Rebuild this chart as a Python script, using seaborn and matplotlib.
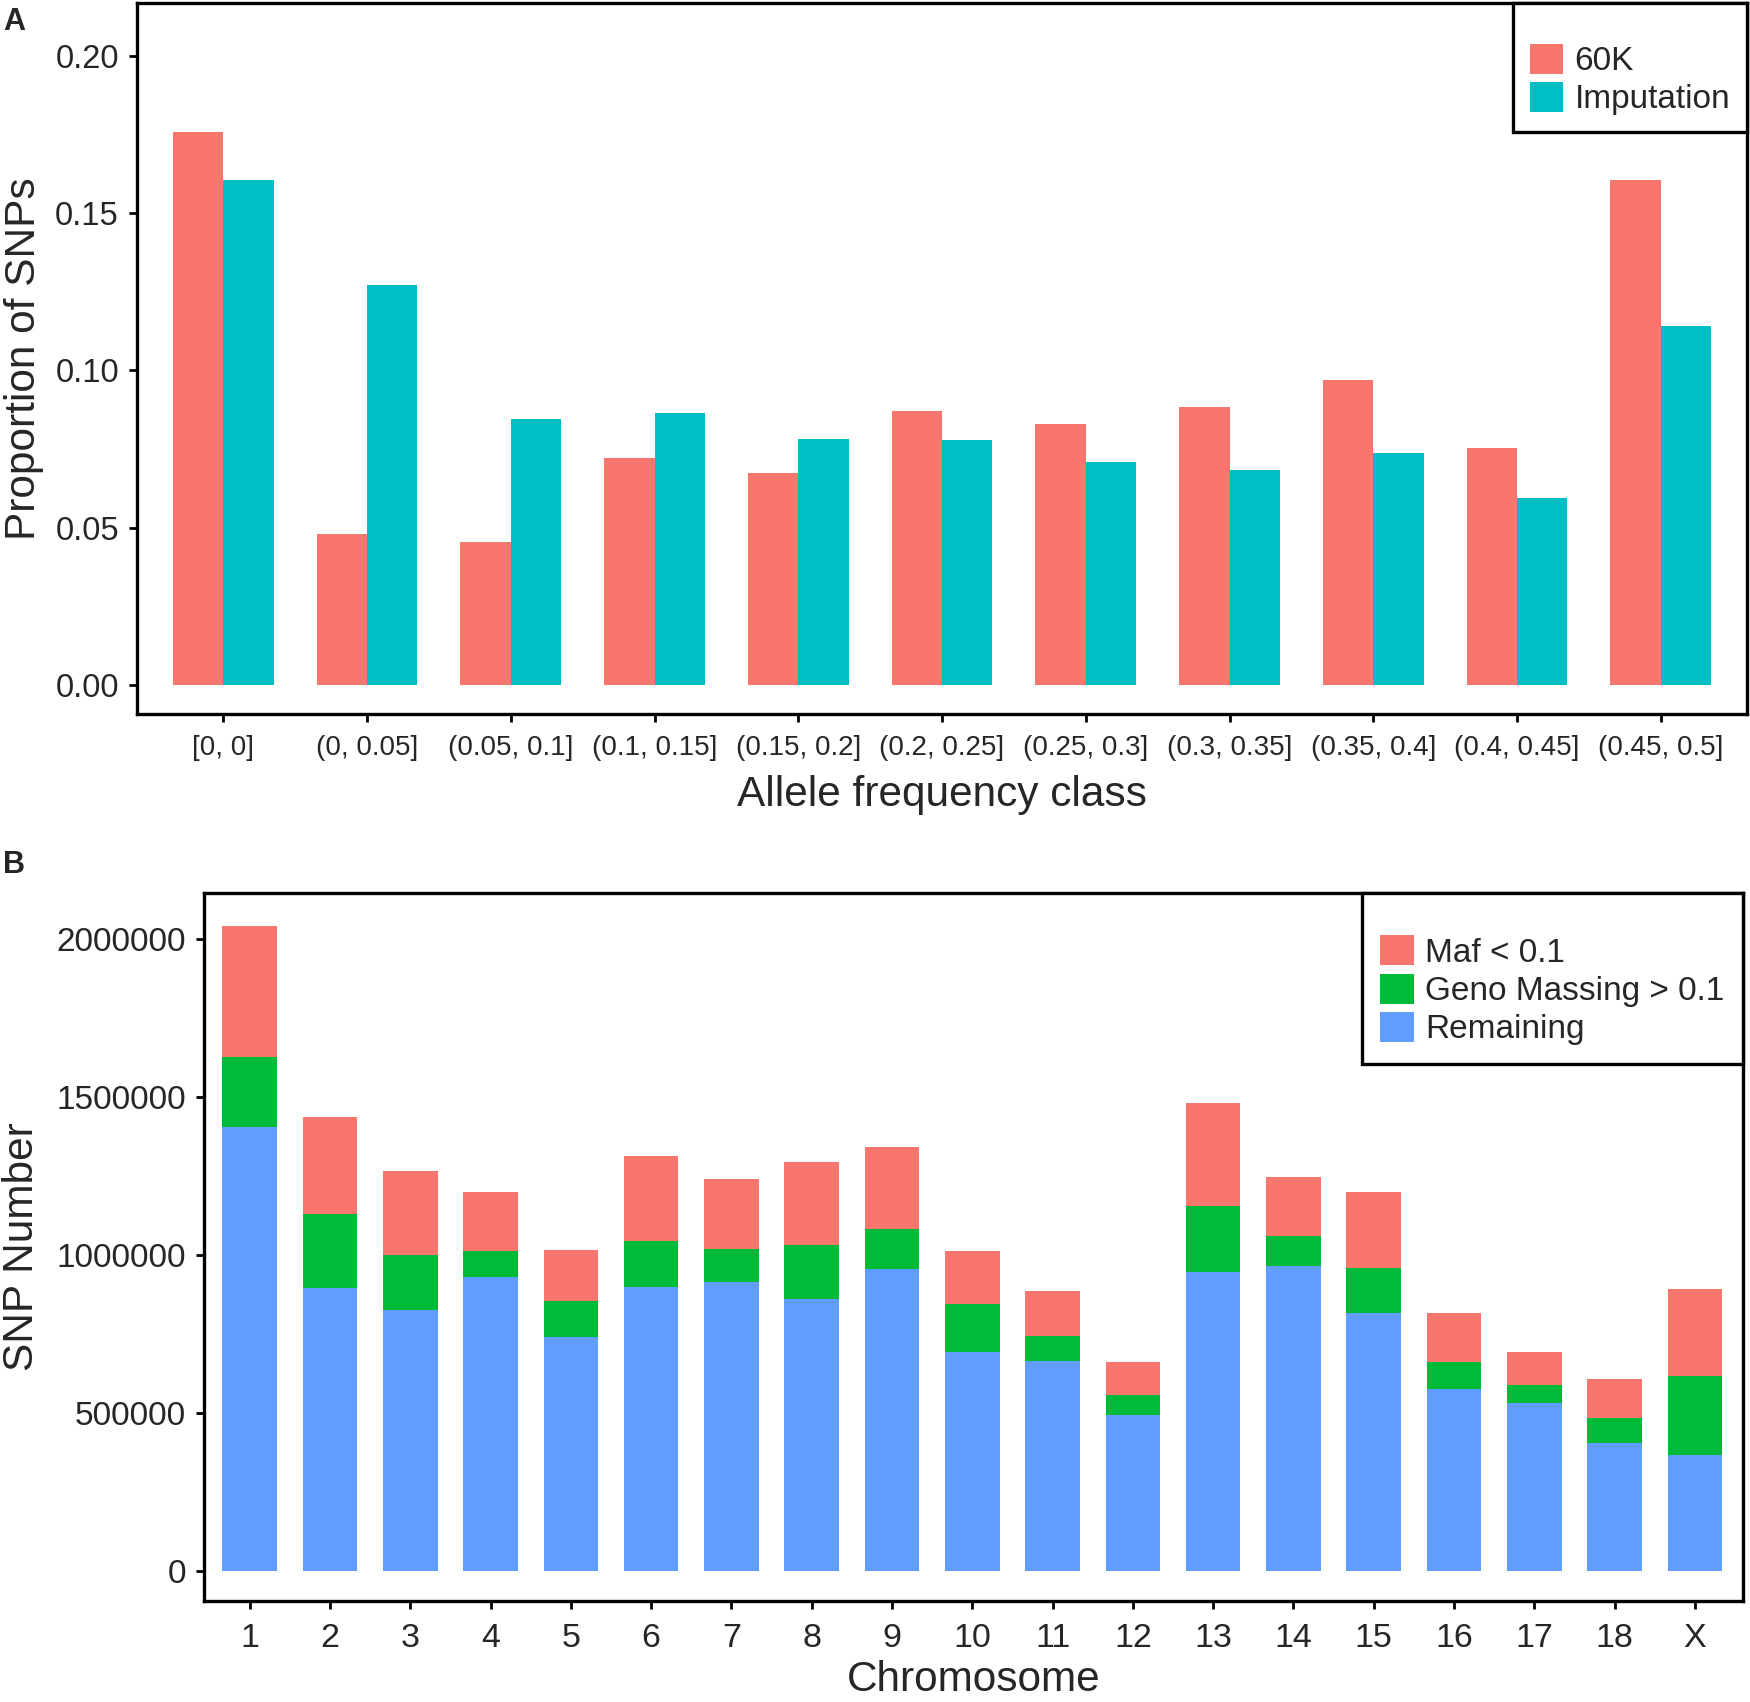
import numpy as np
import pandas as pd
import matplotlib
matplotlib.use("Agg")
import matplotlib.pyplot as plt
from matplotlib import font_manager
import seaborn as sns

# ---------------- data ----------------
freq_classes = ["[0, 0]", "(0, 0.05]", "(0.05, 0.1]", "(0.1, 0.15]", "(0.15, 0.2]",
                "(0.2, 0.25]", "(0.25, 0.3]", "(0.3, 0.35]", "(0.35, 0.4]",
                "(0.4, 0.45]", "(0.45, 0.5]"]
prop_60k = [0.1759, 0.0481, 0.0454, 0.0723, 0.0675, 0.0870, 0.0830, 0.0885, 0.0970, 0.0755, 0.1605]
prop_imputation = [0.1605, 0.1271, 0.0845, 0.0866, 0.0783, 0.0778, 0.0710, 0.0682, 0.0739, 0.0595, 0.1140]
series_a = ["60K", "Imputation"]
yticks_a = [0.00, 0.05, 0.10, 0.15, 0.20]

chromosomes = ["1", "2", "3", "4", "5", "6", "7", "8", "9", "10", "11", "12",
               "13", "14", "15", "16", "17", "18", "X"]
remaining = [1405000, 895000, 826000, 930000, 741000, 898000, 913000, 861000, 955000,
             693000, 664000, 494000, 944000, 966000, 816000, 577000, 530000, 405000, 368000]
geno_missing = [221000, 233000, 172000, 83000, 112000, 144000, 106000, 169000, 126000,
                152000, 80000, 62000, 211000, 92000, 141000, 85000, 58000, 78000, 248000]
maf_low = [413000, 307000, 266000, 185000, 163000, 270000, 222000, 262000, 260000,
           166000, 142000, 106000, 324000, 189000, 240000, 153000, 106000, 125000, 276000]
series_b = ["Maf < 0.1", "Geno Massing > 0.1", "Remaining"]
yticks_b = [0, 500000, 1000000, 1500000, 2000000]

# ---------------- style ----------------
sns.set_style("ticks")
plt.rcParams["font.family"] = ["Liberation Sans", "DejaVu Sans"]

def has_font(name):
    try:
        font_manager.findfont(font_manager.FontProperties(family=name), fallback_to_default=False)
        return True
    except Exception:
        return False

narrow = has_font("Liberation Sans Narrow")
xtick_font_a = dict(family=["Liberation Sans Narrow"], size=24) if narrow else dict(family=["Liberation Sans"], size=20)

col_a = ["#F8766D", "#00BFC4"]
col_b = ["#F8766D", "#00BA38", "#619CFF"]
SPINE_W = 2.4

W, H = 1750, 1702
fig = plt.figure(figsize=(W / 100, H / 100), dpi=100)

def style_axes(ax):
    for s in ax.spines.values():
        s.set_visible(True)
        s.set_color("black")
        s.set_linewidth(SPINE_W)
    ax.tick_params(axis="both", direction="out", length=6, width=2, color="black", pad=7)
    ax.grid(False)

# ---------------- panel A ----------------
axA = fig.add_axes([137 / W, 1 - 714 / H, (1747 - 137) / W, (714 - 3) / H])
dfA = pd.DataFrame({
    "cls": freq_classes * 2,
    "group": [series_a[0]] * len(freq_classes) + [series_a[1]] * len(freq_classes),
    "value": prop_60k + prop_imputation,
})
sns.barplot(data=dfA, x="cls", y="value", hue="group", order=freq_classes,
            hue_order=series_a, palette=col_a, saturation=1, width=0.7,
            linewidth=0, ax=axA, errorbar=None)
style_axes(axA)
axA.set_ylim(-0.0092, 0.2168)
axA.set_xlim(-0.6, len(freq_classes) - 1 + 0.6)
axA.set_yticks(yticks_a)
axA.set_yticklabels([f"{v:.2f}" for v in yticks_a], fontsize=23.5)
axA.set_xticks(range(len(freq_classes)))
axA.set_xticklabels(freq_classes, **xtick_font_a)
axA.tick_params(axis="x", pad=9)
axA.set_xlabel("Allele frequency class", fontsize=30.5, labelpad=10)
axA.set_ylabel("Proportion of SNPs", fontsize=30.5, labelpad=8)
h, l = axA.get_legend_handles_labels()
legA = axA.legend(h, l, loc="upper right", fontsize=24, frameon=True, fancybox=False,
                  title=" ", title_fontsize=15, handlelength=1.0, handleheight=1.0,
                  handletextpad=0.35, labelspacing=0.15, borderpad=0.5,
                  borderaxespad=0.0, edgecolor="black")
legA.get_frame().set_linewidth(SPINE_W)
legA.get_frame().set_alpha(1)

# ---------------- panel B ----------------
axB = fig.add_axes([204 / W, 1 - 1601 / H, (1743 - 204) / W, (1601 - 893) / H])
rem = np.array(remaining)
geno_top = rem + np.array(geno_missing)
total = geno_top + np.array(maf_low)
dfB = pd.DataFrame({"chrom": chromosomes, "total": total, "geno_top": geno_top, "remaining": rem})
sns.barplot(data=dfB, x="chrom", y="total", order=chromosomes, color=col_b[0],
            saturation=1, width=0.68, linewidth=0, ax=axB, label=series_b[0], errorbar=None)
sns.barplot(data=dfB, x="chrom", y="geno_top", order=chromosomes, color=col_b[1],
            saturation=1, width=0.68, linewidth=0, ax=axB, label=series_b[1], errorbar=None)
sns.barplot(data=dfB, x="chrom", y="remaining", order=chromosomes, color=col_b[2],
            saturation=1, width=0.68, linewidth=0, ax=axB, label=series_b[2], errorbar=None)
style_axes(axB)
axB.set_ylim(-94900, 2143900)
axB.set_xlim(-0.57, len(chromosomes) - 1 + 0.6)
axB.set_yticks(yticks_b)
axB.set_yticklabels([str(v) for v in yticks_b], fontsize=24)
axB.set_xticks(range(len(chromosomes)))
axB.set_xticklabels(chromosomes, fontsize=24.5)
axB.tick_params(axis="x", pad=10)
axB.set_xlabel("Chromosome", fontsize=30.5, labelpad=4)
axB.set_ylabel("SNP Number", fontsize=30.5, labelpad=10)
h, l = axB.get_legend_handles_labels()
legB = axB.legend(h, l, loc="upper right", fontsize=24, frameon=True, fancybox=False,
                  title=" ", title_fontsize=15, handlelength=1.0, handleheight=1.0,
                  handletextpad=0.35, labelspacing=0.15, borderpad=0.55,
                  borderaxespad=0.0, edgecolor="black")
legB.get_frame().set_linewidth(SPINE_W)
legB.get_frame().set_alpha(1)

# panel letters
fig.text(3 / W, 1 - 22 / H, "A", fontsize=22, fontweight="bold", va="center", ha="left")
fig.text(3 / W, 1 - 865 / H, "B", fontsize=22, fontweight="bold", va="center", ha="left")

fig.savefig("out.png", dpi=100, facecolor="white")
